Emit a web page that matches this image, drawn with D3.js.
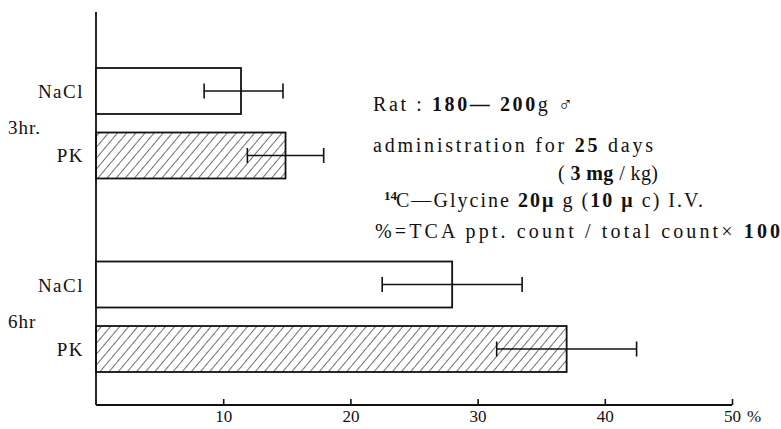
<!DOCTYPE html>
<html>
<head>
<meta charset="utf-8">
<script src="https://cdn.jsdelivr.net/npm/d3@7"></script>
<style>
  body { margin: 0; background: #fff; }
  svg { display: block; font-family: "Liberation Serif", "DejaVu Serif", serif; }
</style>
</head>
<body>
<div id="chart"></div>
<script>
// data (% = TCA ppt. count / total count x 100)
var groups = ["3hr.", "6hr"];
var treatments = ["NaCl", "PK"];
var slots = ["3hr.|NaCl", "3hr.|PK", "gap", "6hr|NaCl", "6hr|PK"];
var means = [11.4, 14.9, 28.0, 37.0];
var errLow = [8.5, 11.9, 22.5, 31.5];
var errHigh = [14.7, 17.9, 33.5, 42.5];
var xTicks = [10, 20, 30, 40, 50];

var bars = [];
groups.forEach(function(g, gi){
  treatments.forEach(function(t, ti){
    var i = gi * 2 + ti;
    bars.push({group: g, treat: t, key: g + "|" + t, v: means[i], lo: errLow[i], hi: errHigh[i]});
  });
});

var W = 781, H = 429;
var svg = d3.select("#chart").append("svg")
  .attr("width", W).attr("height", H);

var defs = svg.append("defs");
var pat = defs.append("pattern")
  .attr("id", "hatch")
  .attr("patternUnits", "userSpaceOnUse")
  .attr("width", 7).attr("height", 7)
  .attr("patternTransform", "rotate(40)");
pat.append("line")
  .attr("x1", 0).attr("y1", 0).attr("x2", 0).attr("y2", 7)
  .attr("stroke", "#111").attr("stroke-width", 1.2);

var x = d3.scaleLinear().domain([0, 50]).range([96, 732]);
var y = d3.scaleBand().domain(slots).range([68, 372]).paddingInner(0.287).paddingOuter(0);
var axisY = 405;

// axes
var xAxis = d3.axisBottom(x).tickValues(xTicks).tickSize(-6).tickPadding(5).tickFormat(d3.format("d"));
var gx = svg.append("g").attr("transform", "translate(0," + axisY + ")").call(xAxis);
gx.select(".domain").attr("stroke", "#111").attr("stroke-width", 1.8).attr("d", "M" + x(0) + ",0H" + x(50));
gx.selectAll(".tick line").attr("stroke", "#111").attr("stroke-width", 1.6);
gx.selectAll(".tick text").attr("fill", "#111").style("font-size", "17px")
  .attr("font-family", "Liberation Serif, serif");

svg.append("text")
  .attr("x", x(50) + 15).attr("y", axisY + 17)
  .style("font-size", "17px").attr("fill", "#111")
  .text("%");

svg.append("line")
  .attr("x1", x(0)).attr("x2", x(0)).attr("y1", 12).attr("y2", axisY)
  .attr("stroke", "#111").attr("stroke-width", 1.8);

// bars
svg.selectAll("rect.bar").data(bars).enter().append("rect")
  .attr("class", "bar")
  .attr("x", x(0))
  .attr("y", function(d){ return y(d.key); })
  .attr("width", function(d){ return x(d.v) - x(0); })
  .attr("height", y.bandwidth())
  .attr("fill", function(d){ return d.treat == "PK" ? "url(#hatch)" : "#fff"; })
  .attr("stroke", "#111").attr("stroke-width", 1.8);

// error bars
var eb = svg.selectAll("g.err").data(bars).enter().append("g")
  .attr("class", "err")
  .attr("transform", function(d){ return "translate(0," + (y(d.key) + y.bandwidth() / 2) + ")"; })
  .attr("stroke", "#111").attr("stroke-width", 1.6);
eb.append("line")
  .attr("x1", function(d){ return x(d.lo); })
  .attr("x2", function(d){ return x(d.hi); });
eb.append("line")
  .attr("x1", function(d){ return x(d.lo); }).attr("x2", function(d){ return x(d.lo); })
  .attr("y1", -7.5).attr("y2", 7.5);
eb.append("line")
  .attr("x1", function(d){ return x(d.hi); }).attr("x2", function(d){ return x(d.hi); })
  .attr("y1", -7.5).attr("y2", 7.5);

// category labels
svg.selectAll("text.treat").data(bars).enter().append("text")
  .attr("class", "treat")
  .attr("x", 84)
  .attr("y", function(d){ return y(d.key) + y.bandwidth() / 2 + 7; })
  .attr("text-anchor", "end")
  .style("font-size", "19px").style("letter-spacing", "1.5px").attr("fill", "#111")
  .text(function(d){ return d.treat; });

svg.selectAll("text.group").data(groups).enter().append("text")
  .attr("class", "group")
  .attr("x", 8)
  .attr("y", function(g){
    var b0 = y(g + "|NaCl") + y.bandwidth(), b1 = y(g + "|PK");
    return (b0 + b1) / 2 + 11;
  })
  .style("font-size", "19px").style("letter-spacing", "1px").attr("fill", "#111")
  .text(function(g){ return g; });

// annotation
var note = svg.append("g").attr("fill", "#111").style("font-size", "20px");

var t1 = note.append("text").attr("x", 373).attr("y", 111)
  .attr("textLength", 200).attr("lengthAdjust", "spacing");
t1.append("tspan").text("Rat : ");
t1.append("tspan").attr("font-weight", "bold").text("180\u2014 200");
t1.append("tspan").text("g \u2642");

var t2 = note.append("text").attr("x", 373).attr("y", 152)
  .attr("textLength", 280).attr("lengthAdjust", "spacing");
t2.append("tspan").text("administration  for  ");
t2.append("tspan").attr("font-weight", "bold").text("25");
t2.append("tspan").text(" days");

var t3 = note.append("text").attr("x", 558).attr("y", 180)
  .attr("textLength", 100).attr("lengthAdjust", "spacing");
t3.append("tspan").text("( ");
t3.append("tspan").attr("font-weight", "bold").text("3 mg");
t3.append("tspan").text(" / kg)");

note.append("text").attr("x", 384).attr("y", 200)
  .attr("font-weight", "bold").style("font-size", "13px").text("14");

var t4 = note.append("text").attr("x", 396).attr("y", 207)
  .attr("textLength", 307).attr("lengthAdjust", "spacing");
t4.append("tspan").text("C\u2014Glycine ");
t4.append("tspan").attr("font-weight", "bold").text("20\u03bc");
t4.append("tspan").text(" g  (");
t4.append("tspan").attr("font-weight", "bold").text("10 \u03bc");
t4.append("tspan").text(" c)  I.V.");

var t5 = note.append("text").attr("x", 375).attr("y", 238)
  .attr("textLength", 405).attr("lengthAdjust", "spacing");
t5.append("tspan").text("%=TCA  ppt.  count / total  count\u00d7 ");
t5.append("tspan").attr("font-weight", "bold").text("100");
</script>
</body>
</html>
